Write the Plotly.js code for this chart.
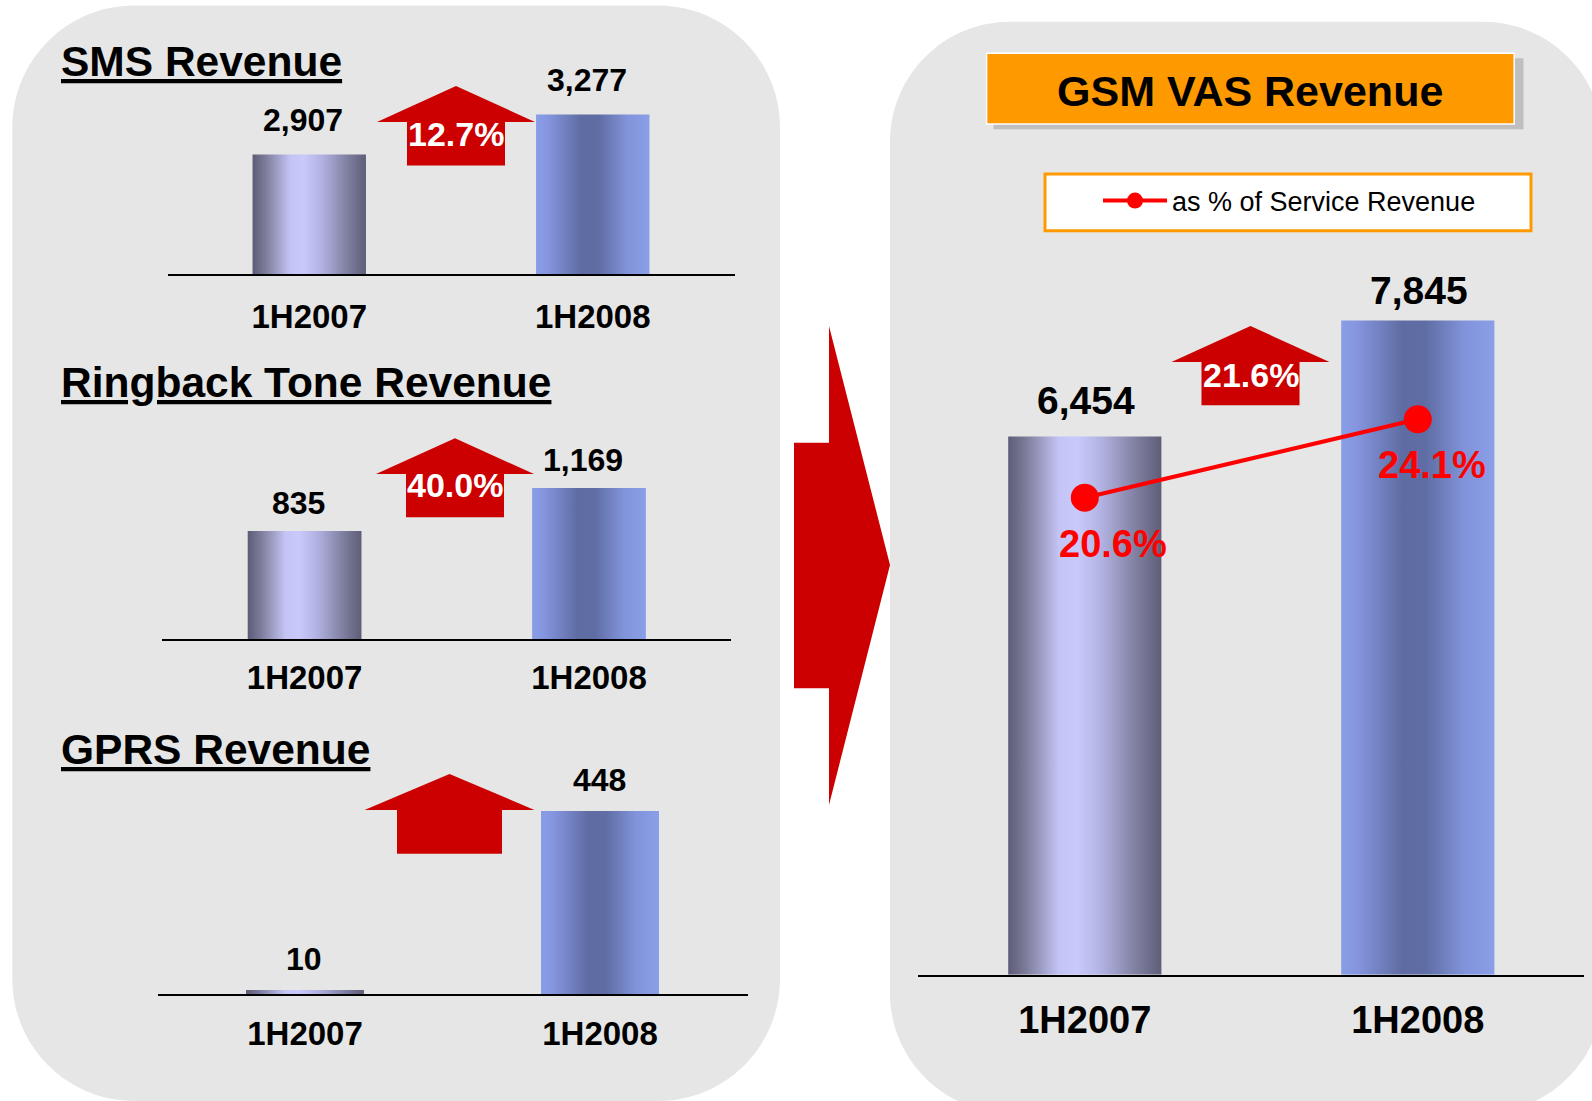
<!DOCTYPE html>
<html>
<head>
<meta charset="utf-8">
<script src="https://cdn.plot.ly/plotly-3.0.1.min.js"></script>
<style>
  html, body { margin: 0; padding: 0; background: #ffffff; }
  #chart { width: 1592px; height: 1101px; }
</style>
</head>
<body>
<div id="chart"></div>
<script>
// ---------------- data ----------------
const periods = ['1H2007', '1H2008'];
const smsRevenue = [2907, 3277];
const ringbackRevenue = [835, 1169];
const gprsRevenue = [10, 448];
const gsmVasRevenue = [6454, 7845];
const vasShareOfServiceRevenue = [20.6, 24.1];
const growthLabels = ['12.7%', '40.0%', '', '21.6%'];
const panelTitles = ['SMS Revenue', 'Ringback Tone Revenue', 'GPRS Revenue', 'GSM VAS Revenue'];
const lineSeriesName = 'as % of Service Revenue';

// ---------------- helpers ----------------
const W = 1592, H = 1101;
const px = v => v / W;
const py = v => 1 - v / H;
function P(x, y) { return px(x).toFixed(5) + ',' + py(y).toFixed(5); }
const FONT = 'Liberation Sans, Arial, Helvetica, sans-serif';
const fmt = v => v.toLocaleString('en-US');

function roundRect(x0, y0, x1, y1, r) {
  const k = 0.5523 * r;
  return 'M' + P(x0 + r, y0) + 'L' + P(x1 - r, y0) +
    'C' + P(x1 - r + k, y0) + ' ' + P(x1, y0 + r - k) + ' ' + P(x1, y0 + r) +
    'L' + P(x1, y1 - r) +
    'C' + P(x1, y1 - r + k) + ' ' + P(x1 - r + k, y1) + ' ' + P(x1 - r, y1) +
    'L' + P(x0 + r, y1) +
    'C' + P(x0 + r - k, y1) + ' ' + P(x0, y1 - r + k) + ' ' + P(x0, y1 - r) +
    'L' + P(x0, y0 + r) +
    'C' + P(x0, y0 + r - k) + ' ' + P(x0 + r - k, y0) + ' ' + P(x0 + r, y0) + 'Z';
}
function upArrow(cx, tipY, baseY, headHalf, shaftHalf, bottomY) {
  return 'M' + P(cx, tipY) + 'L' + P(cx + headHalf, baseY) + 'L' + P(cx + shaftHalf, baseY) +
    'L' + P(cx + shaftHalf, bottomY) + 'L' + P(cx - shaftHalf, bottomY) +
    'L' + P(cx - shaftHalf, baseY) + 'L' + P(cx - headHalf, baseY) + 'Z';
}
function rectShape(x0, y0, x1, y1, fill, lineColor, lineWidth) {
  return { type: 'rect', xref: 'paper', yref: 'paper', layer: 'below',
    x0: px(x0), x1: px(x1), y0: py(y1), y1: py(y0),
    fillcolor: fill, line: { color: lineColor || fill, width: lineWidth || 0 } };
}
function pathShape(path, fill) {
  return { type: 'path', xref: 'paper', yref: 'paper', layer: 'below', path: path,
    fillcolor: fill, line: { width: 0 } };
}

// ---------------- traces ----------------
const fallbackColors = ['#9a9ac8', '#7384c8'];
function barTrace(values, xa, ya, width) {
  return { type: 'bar', x: periods, y: values, xaxis: xa, yaxis: ya, width: width,
    marker: { color: fallbackColors, line: { width: 0 } }, showlegend: false, hoverinfo: 'skip' };
}
const data = [
  barTrace(smsRevenue, 'x', 'y', 0.40),
  barTrace(ringbackRevenue, 'x2', 'y2', 0.40),
  barTrace(gprsRevenue, 'x3', 'y3', 0.40),
  barTrace(gsmVasRevenue, 'x4', 'y4', 0.46),
  { type: 'scatter', mode: 'lines+markers', name: lineSeriesName,
    x: periods, y: vasShareOfServiceRevenue, xaxis: 'x4', yaxis: 'y5',
    line: { color: '#ff0000', width: 4 },
    marker: { color: '#ff0000', size: 28, line: { width: 0 } },
    showlegend: true, hoverinfo: 'skip' }
];

// ---------------- axes ----------------
function xAxis(d0, d1, anchor, fontSize, standoff) {
  return { domain: [px(d0), px(d1)], anchor: anchor, type: 'category', range: [-0.5, 1.5],
    showline: true, linecolor: '#000000', linewidth: 2, showgrid: false, zeroline: false,
    ticks: '', ticklabelstandoff: standoff,
    tickfont: { family: FONT, size: fontSize, color: '#000000', weight: 'bold' } };
}
function yAxis(top, bottom, range, anchor) {
  return { domain: [py(bottom), py(top)], range: range, anchor: anchor, visible: false,
    showgrid: false, zeroline: false };
}

// ---------------- annotations ----------------
const annotations = [];
function titleAnn(text, x, y, size) {
  annotations.push({ xref: 'paper', yref: 'paper', x: px(x), y: py(y), xanchor: 'left', yanchor: 'middle',
    text: '<u>' + text + '</u>', showarrow: false,
    font: { family: FONT, size: size, color: '#000000', weight: 'bold' } });
}
titleAnn(panelTitles[0], 59, 61, 42.5);
titleAnn(panelTitles[1], 59, 382.5, 42.5);
titleAnn(panelTitles[2], 59, 749, 42.5);
annotations.push({ xref: 'paper', yref: 'paper', x: px(1250), y: py(91), xanchor: 'center', yanchor: 'middle',
  text: panelTitles[3], showarrow: false,
  font: { family: FONT, size: 43, color: '#000000', weight: 'bold' } });

function valueLabels(values, xa, ya, lift, size, xshift) {
  values.forEach((v, i) => {
    annotations.push({ xref: xa, yref: ya, x: periods[i], y: v, yshift: Array.isArray(lift) ? lift[i] : lift,
      xshift: xshift || 0,
      xanchor: 'center', yanchor: 'middle', text: fmt(v), showarrow: false,
      font: { family: FONT, size: size, color: '#000000', weight: 'bold' } });
  });
}
valueLabels(smsRevenue, 'x', 'y', 34, 32, -6);
valueLabels(ringbackRevenue, 'x2', 'y2', 28, 32, -6);
valueLabels(gprsRevenue, 'x3', 'y3', 31, 32, -1);
valueLabels(gsmVasRevenue, 'x4', 'y4', [36, 30], 39, 1);

const pctShiftX = [28, 14];
vasShareOfServiceRevenue.forEach((v, i) => {
  annotations.push({ xref: 'x4', yref: 'y5', x: periods[i], y: v, xshift: pctShiftX[i], yshift: -46,
    xanchor: 'center', yanchor: 'middle', text: v.toFixed(1) + '%', showarrow: false,
    font: { family: FONT, size: 38, color: '#ff0000', weight: 'bold' } });
});

// growth arrows (decorative) and their labels
const arrows = [
  { cx: 456, tip: 86, base: 122, head: 79, shaft: 49, bottom: 165.5, textY: 134 },
  { cx: 455, tip: 438.3, base: 474, head: 79, shaft: 49, bottom: 517.3, textY: 485 },
  { cx: 449.5, tip: 774, base: 810, head: 85, shaft: 52.5, bottom: 853.7, textY: 832 },
  { cx: 1250.5, tip: 326, base: 362, head: 79, shaft: 49, bottom: 405.3, textY: 374.5 }
];
arrows.forEach((a, i) => {
  if (growthLabels[i]) {
    annotations.push({ xref: 'paper', yref: 'paper', x: px(a.cx), y: py(a.textY), xanchor: 'center', yanchor: 'middle',
      text: growthLabels[i], showarrow: false,
      font: { family: FONT, size: 34, color: '#ffffff', weight: 'bold' } });
  }
});

// ---------------- shapes ----------------
const PANEL = '#e5e6e5';
const RED = '#cc0000';
const shapes = [
  pathShape(roundRect(12.3, 5.5, 780, 1101, 122), PANEL),
  pathShape(roundRect(890, 21.7, 1603, 1113, 120), PANEL),
  pathShape('M' + P(794, 442.7) + 'L' + P(829, 442.7) + 'L' + P(829, 326) + 'L' + P(890, 565) +
    'L' + P(829, 805) + 'L' + P(829, 688.3) + 'L' + P(794, 688.3) + 'Z', RED),
  rectShape(993.5, 58.3, 1523.5, 129.3, '#bfbfbf'),
  rectShape(986.6, 53.3, 1514.2, 124, '#ff9900', '#ffffff', 1.5),
  rectShape(1045, 174, 1531, 230.7, '#ffffff', '#ff9900', 3)
];
arrows.forEach(a => shapes.push(pathShape(upArrow(a.cx, a.tip, a.base, a.head, a.shaft, a.bottom), RED)));

// ---------------- layout ----------------
const layout = {
  width: W, height: H, autosize: false,
  margin: { l: 0, r: 0, t: 0, b: 0, pad: 0 },
  paper_bgcolor: '#ffffff', plot_bgcolor: 'rgba(0,0,0,0)',
  font: { family: FONT, color: '#000000' },
  showlegend: true,
  legend: { x: px(1098), y: py(201), xanchor: 'left', yanchor: 'middle',
    bgcolor: 'rgba(0,0,0,0)', borderwidth: 0, itemwidth: 64,
    font: { family: FONT, size: 27, color: '#000000' } },
  xaxis: xAxis(167.5, 734.5, 'y', 33, 12),
  yaxis: yAxis(100, 274.4, [1800, 3410], 'x'),
  xaxis2: xAxis(162.4, 731.2, 'y2', 33, 8),
  yaxis2: yAxis(450, 639, [0, 1462], 'x2'),
  xaxis3: xAxis(157.5, 747.5, 'y3', 33, 9),
  yaxis3: yAxis(780, 994, [0, 524], 'x3'),
  xaxis4: xAxis(918.3, 1584.3, 'y4', 38, 11),
  yaxis4: yAxis(200, 974.7, [0, 9289], 'x4'),
  yaxis5: { overlaying: 'y4', anchor: 'x4', side: 'right', range: [-0.696, 33.89], visible: false,
    showgrid: false, zeroline: false },
  shapes: shapes,
  annotations: annotations
};

// ---------------- bar gradients ----------------
const barGradients = [
  [[0, '#5c5c78'], [0.12, '#7e7e9c'], [0.33, '#c3c3f5'], [0.45, '#c9c9fc'], [0.62, '#b0b0e0'], [0.85, '#7c7c9c'], [1, '#5e5e79']],
  [[0, '#899de8'], [0.1, '#8596df'], [0.4, '#5f6ca3'], [0.55, '#5f6da4'], [0.8, '#8193d9'], [1, '#8a9fe9']]
];
function applyGradients(gd) {
  const ns = 'http://www.w3.org/2000/svg';
  const svg = gd.querySelector('svg.main-svg');
  let defs = svg.querySelector('defs');
  if (!defs) { defs = document.createElementNS(ns, 'defs'); svg.insertBefore(defs, svg.firstChild); }
  barGradients.forEach((stops, i) => {
    const lg = document.createElementNS(ns, 'linearGradient');
    lg.setAttribute('id', 'barGrad' + i);
    lg.setAttribute('x1', '0'); lg.setAttribute('y1', '0');
    lg.setAttribute('x2', '1'); lg.setAttribute('y2', '0');
    stops.forEach(s => {
      const st = document.createElementNS(ns, 'stop');
      st.setAttribute('offset', s[0]);
      st.setAttribute('stop-color', s[1]);
      lg.appendChild(st);
    });
    defs.appendChild(lg);
  });
  gd.querySelectorAll('.barlayer .trace').forEach(tr => {
    tr.querySelectorAll('.point path').forEach((p, j) => {
      p.style.fill = 'url(#barGrad' + (j % barGradients.length) + ')';
    });
  });
}

const gd = document.getElementById('chart');
Plotly.newPlot(gd, data, layout, { staticPlot: true, displayModeBar: false }).then(applyGradients);
</script>
</body>
</html>
